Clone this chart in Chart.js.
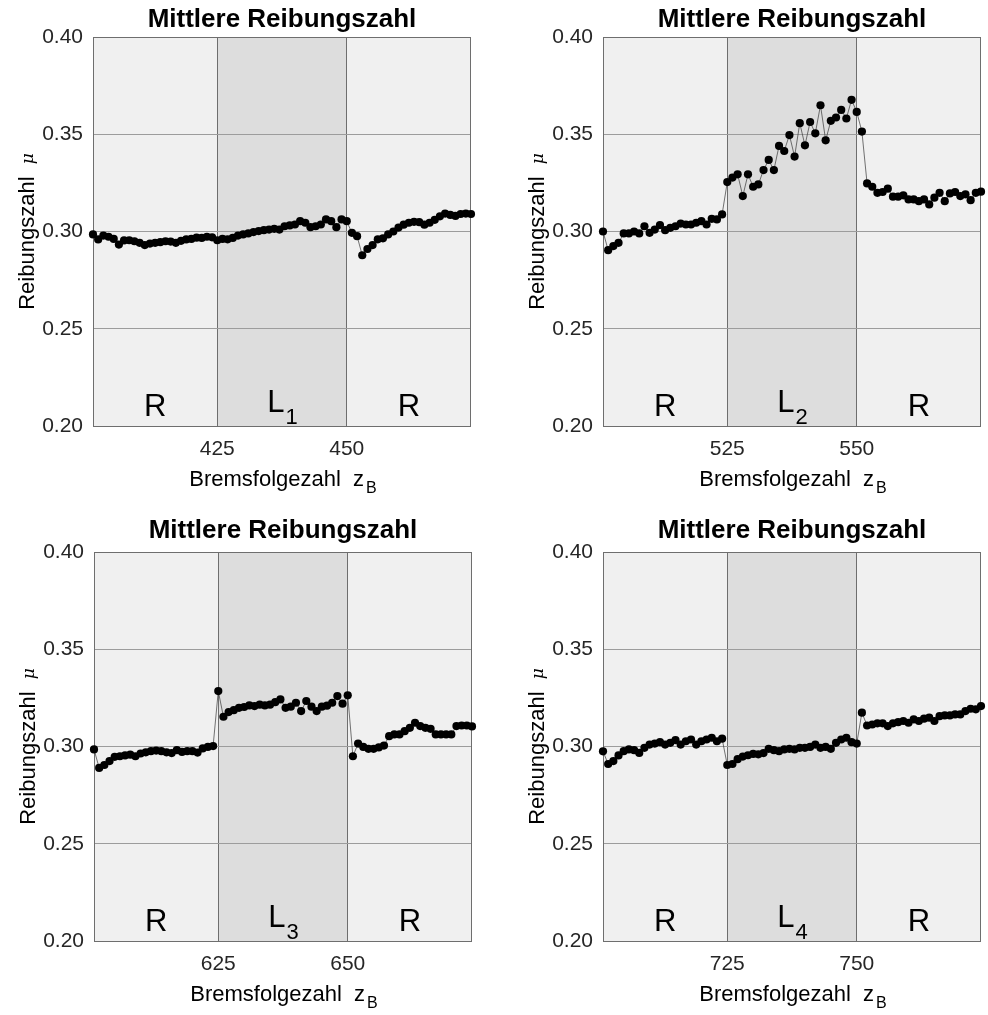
<!DOCTYPE html>
<html>
<head>
<meta charset="utf-8">
<title>Mittlere Reibungszahl</title>
<script src="https://cdn.jsdelivr.net/npm/chart.js@4.4.1/dist/chart.umd.min.js"></script>
<style>
	body { margin: 0; background: #fff; }
	#wrap { position: relative; width: 988px; height: 1015px; }
	canvas { position: absolute; }
</style>
</head>
<body>
<div id="wrap">
	<canvas id="c1" width="494" height="507" style="left:0;top:0"></canvas>
	<canvas id="c2" width="494" height="507" style="left:494px;top:0"></canvas>
	<canvas id="c3" width="494" height="508" style="left:0;top:507px"></canvas>
	<canvas id="c4" width="494" height="508" style="left:494px;top:507px"></canvas>
</div>
<script>
// first brake number of each block (one point per brake)
var zStart = [401, 501, 601, 701];
var zEnd = [474, 574, 674, 774];
// L block borders
var lBlock = [[425, 450], [525, 550], [625, 650], [725, 750]];
var xTicks = [[425, 450], [525, 550], [625, 650], [725, 750]];
var yTicks = [0.20, 0.25, 0.30, 0.35, 0.40];
var lIndex = ['1', '2', '3', '4'];

var mu1 = [0.2985, 0.2959, 0.2979, 0.2973, 0.2962, 0.2933, 0.2954, 0.2955, 0.2950, 0.2942,
	0.2930, 0.2938, 0.2942, 0.2945, 0.2950, 0.2948, 0.2942, 0.2952, 0.2959, 0.2962,
	0.2968, 0.2967, 0.2973, 0.2970, 0.2955, 0.2962, 0.2960, 0.2967, 0.2979, 0.2985,
	0.2990, 0.2997, 0.3002, 0.3007, 0.3010, 0.3014, 0.3010, 0.3027, 0.3031, 0.3036,
	0.3053, 0.3045, 0.3022, 0.3027, 0.3036, 0.3062, 0.3053, 0.3022, 0.3062, 0.3053,
	0.2993, 0.2976, 0.2878, 0.2910, 0.2930, 0.2960, 0.2965, 0.2985, 0.3000, 0.3020,
	0.3035, 0.3045, 0.3050, 0.3048, 0.3035, 0.3045, 0.3060, 0.3078, 0.3092, 0.3085,
	0.3080, 0.3090, 0.3092, 0.3090];

var mu2 = [0.3000, 0.2904, 0.2925, 0.2942, 0.2990, 0.2990, 0.3000, 0.2990, 0.3027, 0.2993,
	0.3010, 0.3033, 0.3007, 0.3019, 0.3027, 0.3041, 0.3036, 0.3036, 0.3045, 0.3053,
	0.3036, 0.3065, 0.3062, 0.3088, 0.3254, 0.3277, 0.3294, 0.3182, 0.3294, 0.3230,
	0.3242, 0.3316, 0.3368, 0.3316, 0.3440, 0.3414, 0.3496, 0.3385, 0.3557, 0.3443,
	0.3563, 0.3505, 0.3649, 0.3469, 0.3569, 0.3586, 0.3625, 0.3581, 0.3677, 0.3615,
	0.3514, 0.3247, 0.3230, 0.3199, 0.3203, 0.3220, 0.3179, 0.3179, 0.3186, 0.3165,
	0.3165, 0.3156, 0.3165, 0.3139, 0.3174, 0.3199, 0.3156, 0.3196, 0.3203, 0.3182,
	0.3191, 0.3161, 0.3199, 0.3205];

var mu3 = [0.2985, 0.2890, 0.2905, 0.2925, 0.2947, 0.2950, 0.2954, 0.2958, 0.2950, 0.2964,
	0.2970, 0.2976, 0.2979, 0.2976, 0.2970, 0.2966, 0.2981, 0.2972, 0.2976, 0.2976,
	0.2969, 0.2990, 0.2998, 0.3002, 0.3285, 0.3153, 0.3177, 0.3187, 0.3199, 0.3203,
	0.3211, 0.3208, 0.3215, 0.3211, 0.3215, 0.3228, 0.3242, 0.3199, 0.3205, 0.3225,
	0.3182, 0.3234, 0.3205, 0.3182, 0.3205, 0.3210, 0.3225, 0.3259, 0.3220, 0.3263,
	0.2950, 0.3015, 0.2998, 0.2988, 0.2988, 0.2995, 0.3005, 0.3053, 0.3062, 0.3062,
	0.3079, 0.3096, 0.3122, 0.3105, 0.3096, 0.3091, 0.3062, 0.3062, 0.3062, 0.3062,
	0.3105, 0.3108, 0.3108, 0.3103];

var mu4 = [0.2975, 0.2910, 0.2925, 0.2954, 0.2976, 0.2985, 0.2981, 0.2967, 0.2993, 0.3010,
	0.3015, 0.3022, 0.3010, 0.3019, 0.3033, 0.3010, 0.3027, 0.3036, 0.3010, 0.3027,
	0.3036, 0.3045, 0.3027, 0.3040, 0.2905, 0.2910, 0.2935, 0.2948, 0.2955, 0.2962,
	0.2960, 0.2966, 0.2988, 0.2981, 0.2976, 0.2985, 0.2988, 0.2985, 0.2993, 0.2993,
	0.2998, 0.3010, 0.2993, 0.2998, 0.2988, 0.3019, 0.3036, 0.3045, 0.3022, 0.3015,
	0.3174, 0.3108, 0.3113, 0.3119, 0.3119, 0.3105, 0.3119, 0.3125, 0.3131, 0.3122,
	0.3139, 0.3131, 0.3143, 0.3148, 0.3131, 0.3156, 0.3160, 0.3160, 0.3165, 0.3165,
	0.3182, 0.3194, 0.3191, 0.3208];

var muAll = [mu1, mu2, mu3, mu4];

// where each axes box sits inside its canvas
var boxes = [
	{ pad: { left: 0, top: 37, right: 23, bottom: 0 }, yW: 93, xH: 81, titleOff: 10 },
	{ pad: { left: 16, top: 37, right: 7, bottom: 0 }, yW: 93, xH: 81, titleOff: 10 },
	{ pad: { left: 0, top: 45, right: 22, bottom: 0 }, yW: 94, xH: 74, titleOff: 14 },
	{ pad: { left: 16, top: 45, right: 7, bottom: 0 }, yW: 93, xH: 74, titleOff: 14 }
];

var SANS = '"Liberation Sans", Arial, sans-serif';

var panelDecor = {
	id: 'panelDecor',
	beforeDraw: function (chart, args, o) {
		var ctx = chart.ctx, a = chart.chartArea, xs = chart.scales.x;
		var x1 = xs.getPixelForValue(o.l[0]), x2 = xs.getPixelForValue(o.l[1]);
		ctx.save();
		ctx.fillStyle = '#f0f0f0';
		ctx.fillRect(a.left, a.top, a.right - a.left, a.bottom - a.top);
		ctx.fillStyle = '#dddddd';
		ctx.fillRect(x1, a.top, x2 - x1, a.bottom - a.top);
		ctx.restore();
	},
	beforeDatasetsDraw: function (chart) {
		var ctx = chart.ctx, a = chart.chartArea;
		ctx.save();
		ctx.strokeStyle = '#6e6e6e';
		ctx.lineWidth = 1;
		ctx.strokeRect(a.left + 0.5, a.top + 0.5, a.right - a.left - 1, a.bottom - a.top);
		ctx.restore();
	},
	afterDraw: function (chart, args, o) {
		var ctx = chart.ctx, a = chart.chartArea, xs = chart.scales.x;
		var x1 = xs.getPixelForValue(o.l[0]), x2 = xs.getPixelForValue(o.l[1]);
		var cx = (a.left + a.right) / 2, cy = (a.top + a.bottom) / 2;
		ctx.save();
		ctx.fillStyle = '#000';
		ctx.textBaseline = 'alphabetic';

		// title
		ctx.font = 'bold 26px ' + SANS;
		ctx.textAlign = 'center';
		ctx.fillText('Mittlere Reibungszahl', cx, a.top - o.titleOff);

		// block labels
		ctx.font = '31px ' + SANS;
		ctx.fillText('R', (a.left + x1) / 2, a.bottom - 10);
		ctx.fillText('R', (x2 + a.right) / 2, a.bottom - 10);
		var wL = ctx.measureText('L').width;
		ctx.font = '22px ' + SANS;
		var wS = ctx.measureText(o.sub).width;
		var lx = (x1 + x2) / 2 - (wL + wS) / 2;
		ctx.textAlign = 'left';
		ctx.font = '31px ' + SANS;
		ctx.fillText('L', lx, a.bottom - 14);
		ctx.font = '22px ' + SANS;
		ctx.fillText(o.sub, lx + wL + 1, a.bottom - 2);

		// x title
		ctx.font = '22px ' + SANS;
		var t1 = 'Bremsfolgezahl  z';
		var w1 = ctx.measureText(t1).width;
		ctx.font = '16px ' + SANS;
		var w2 = ctx.measureText('B').width;
		var tx = cx - (w1 + w2) / 2;
		ctx.font = '22px ' + SANS;
		ctx.fillText(t1, tx, a.bottom + 60);
		ctx.font = '16px ' + SANS;
		ctx.fillText('B', tx + w1 + 2, a.bottom + 67);

		// y title
		ctx.translate(a.left - 59, cy);
		ctx.rotate(-Math.PI / 2);
		ctx.font = '22px ' + SANS;
		var t3 = 'Reibungszahl  ';
		var w3 = ctx.measureText(t3).width;
		ctx.font = 'italic 17px "DejaVu Serif", serif';
		var w4 = ctx.measureText('\u03bc').width;
		var ty = -(w3 + w4) / 2;
		ctx.font = '22px ' + SANS;
		ctx.fillText(t3, ty, 0);
		ctx.font = 'italic 17px "DejaVu Serif", serif';
		ctx.fillText('\u03bc', ty + w3, -1);
		ctx.restore();
	}
};

var drawPanel = function (i) {
	var pts = [];
	for (var k = 0; k < muAll[i].length; k++) {
		pts.push({ x: zStart[i] + k, y: muAll[i][k] });
	}
	var b = boxes[i];
	var ctx = document.getElementById('c' + (i + 1)).getContext('2d');
	return new Chart(ctx, {
		type: 'line',
		data: {
			datasets: [{
				data: pts,
				borderColor: '#3a3a3a',
				borderWidth: 0.7,
				pointRadius: 4.1,
				pointBackgroundColor: '#000',
				pointBorderWidth: 0,
				tension: 0,
				clip: 6
			}]
		},
		options: {
			responsive: false,
			animation: false,
			devicePixelRatio: 1,
			layout: { padding: b.pad },
			plugins: {
				legend: { display: false },
				tooltip: { enabled: false },
				panelDecor: { l: lBlock[i], sub: lIndex[i], titleOff: b.titleOff }
			},
			scales: {
				x: {
					type: 'linear',
					min: zStart[i],
					max: zEnd[i],
					afterBuildTicks: function (ax) {
						ax.ticks = xTicks[i].map(function (v) { return { value: v }; });
					},
					afterFit: function (ax) { ax.height = b.xH; },
					grid: { color: '#6e6e6e', drawTicks: false, lineWidth: 1 },
					border: { display: false },
					ticks: {
						padding: 11,
						color: '#262626',
						font: { family: SANS, size: 21 },
						maxRotation: 0,
						callback: function (v) { return String(v); }
					}
				},
				y: {
					min: 0.20,
					max: 0.40,
					afterBuildTicks: function (ax) {
						ax.ticks = yTicks.map(function (v) { return { value: v }; });
					},
					afterFit: function (ax) { ax.width = b.yW; },
					grid: { color: '#9c9c9c', drawTicks: false, lineWidth: 1 },
					border: { display: false },
					ticks: {
						padding: 10,
						color: '#262626',
						font: { family: SANS, size: 21 },
						callback: function (v) { return v.toFixed(2); }
					}
				}
			}
		},
		plugins: [panelDecor]
	});
};

for (var p = 0; p < 4; p++) {
	drawPanel(p);
}
</script>
</body>
</html>
